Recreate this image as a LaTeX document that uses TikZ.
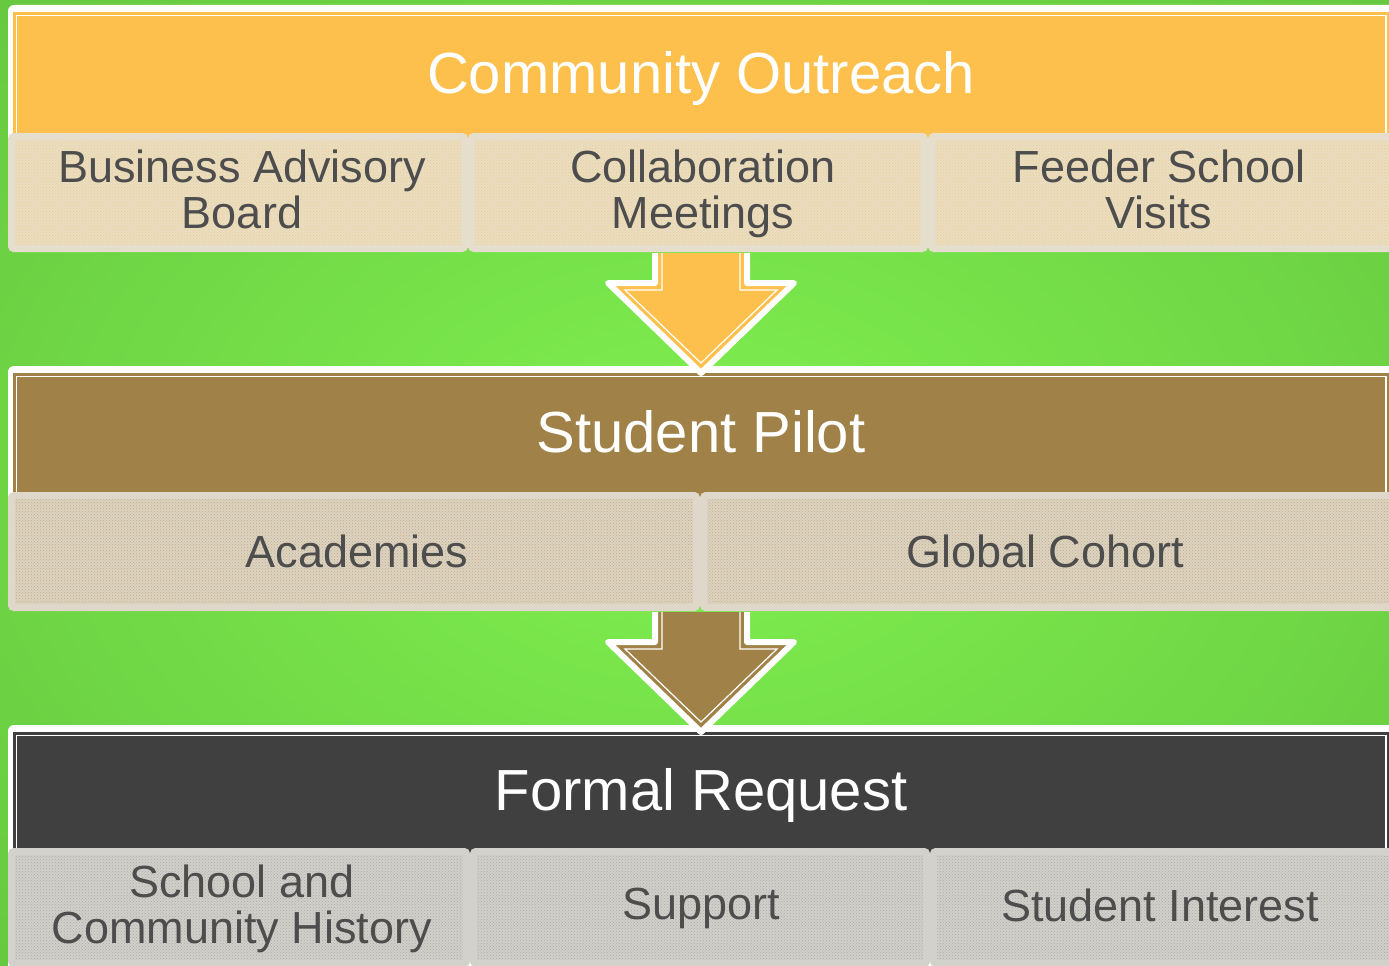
\documentclass[tikz,border=0pt]{standalone}
\usepackage{fontspec}
\setmainfont{Liberation Sans}
\usetikzlibrary{patterns}
\definecolor{bgin}{RGB}{128,240,80}
\definecolor{bgout}{RGB}{92,184,56}
\definecolor{hOne}{RGB}{254,192,77}
\definecolor{hTwo}{RGB}{160,130,72}
\definecolor{hThree}{RGB}{64,64,64}
\definecolor{fOne}{RGB}{233,221,194}
\definecolor{dOne}{RGB}{238,204,140}
\definecolor{rOne}{RGB}{230,222,205}
\definecolor{fTwo}{RGB}{221,211,193}
\definecolor{dTwo}{RGB}{192,172,134}
\definecolor{rTwo}{RGB}{223,215,201}
\definecolor{fThree}{RGB}{209,207,201}
\definecolor{dThree}{RGB}{172,172,170}
\definecolor{rThree}{RGB}{211,209,204}
\definecolor{txt}{RGB}{77,77,77}
\tikzset{
  frame/.style={fill=white, rounded corners=6pt},
  header/.style={anchor=north west, inner sep=0pt, minimum width=1376pt, minimum height=128pt},
  htext/.style={text=white, font=\fontsize{58}{62}\selectfont, inner sep=0pt},
  innerline/.style={draw=white, line width=1.2pt},
  sbase/.style={anchor=north west, rounded corners=2.5pt, line width=7pt, inner sep=0pt,
    pattern=crosshatch dots, minimum height=112pt},
  subOne/.style={sbase, draw=rOne, preaction={fill=fOne}, pattern color=dOne},
  subTwo/.style={sbase, draw=rTwo, preaction={fill=fTwo}, pattern color=dTwo},
  subThree/.style={sbase, draw=rThree, preaction={fill=fThree}, pattern color=dThree},
  stext/.style={align=center, text=txt, font=\fontsize{45}{46}\selectfont, inner sep=0pt},
  arrowout/.style={draw=white, line width=6pt, line join=round},
  arrowin/.style={draw=white, line width=1.2pt, line join=miter}
}
\begin{document}
\begin{tikzpicture}[x=1pt,y=-1pt]
\useasboundingbox (0,0) rectangle (1389,966);
\begin{scope}
\clip (0,0) rectangle (1389,966);
\shade[inner color=bgin, outer color=bgout] (-700,-480) rectangle (2089,1446);

% Section 1
\fill[frame] (8,5) rectangle (1400,248);
\node[header, fill=hOne] (h1) at (13,12) {};
\draw[innerline] ([xshift=3.5pt,yshift=-3.5pt]h1.north west) rectangle ([xshift=-3.5pt]h1.south east);
\node[htext] (t1) at (701,79) {Community Outreach};

\node[subOne, minimum width=453pt] (a1) at (8,133) {};
\node[subOne, minimum width=453pt] (a2) at (468,133) {};
\node[subOne, minimum width=461pt] (a3) at (928,133) {};
\node[stext] (ta1) at (242,189.5) {Business Advisory\\Board};
\node[stext] (ta2) at (703,193.5) {Collaboration\\Meetings};
\node[stext] (ta3) at (1159,189.5) {Feeder School\\Visits};

% Section 2
\fill[frame] (8,366) rectangle (1400,605);
\node[header, fill=hTwo] (h2) at (13,373) {};
\draw[innerline] ([xshift=3.5pt,yshift=-3.5pt]h2.north west) rectangle ([xshift=-3.5pt]h2.south east);
\node[htext] (t2) at (701,432) {Student Pilot};

\node[subTwo, minimum width=685pt] (b1) at (8,492) {};
\node[subTwo, minimum width=689pt] (b2) at (700,492) {};
\node[stext] (tb1) at (357,551.5) {Academies};
\node[stext] (tb2) at (1045,551.5) {Global Cohort};

% Section 3
\fill[frame] (8,725) rectangle (1400,980);
\node[header, fill=hThree] (h3) at (13,732) {};
\draw[innerline] ([xshift=3.5pt,yshift=-3.5pt]h3.north west) rectangle ([xshift=-3.5pt]h3.south east);
\node[htext] (t3) at (701,795) {Formal Request};

\node[subThree, minimum width=455pt] (c1) at (8,848) {};
\node[subThree, minimum width=453pt] (c2) at (470,848) {};
\node[subThree, minimum width=459pt] (c3) at (930,848) {};
\node[stext] (tc1) at (242,908.5) {School and\\Community History};
\node[stext] (tc2) at (701,908.5) {Support};
\node[stext] (tc3) at (1160,905.5) {Student Interest};

% Arrow 1
\filldraw[arrowout, fill=hOne] (655,253) -- (655,283) -- (608,283) -- (701,373) -- (794,283) -- (747,283) -- (747,253);
\draw[arrowin] (662,253) -- (662,290) -- (625,290) -- (701,363) -- (777,290) -- (740,290) -- (740,253);
% Arrow 2
\filldraw[arrowout, fill=hTwo] (655,612) -- (655,642) -- (608,642) -- (701,732) -- (794,642) -- (747,642) -- (747,612);
\draw[arrowin] (662,612) -- (662,649) -- (625,649) -- (701,722) -- (777,649) -- (740,649) -- (740,612);
\end{scope}
\end{tikzpicture}
\end{document}
